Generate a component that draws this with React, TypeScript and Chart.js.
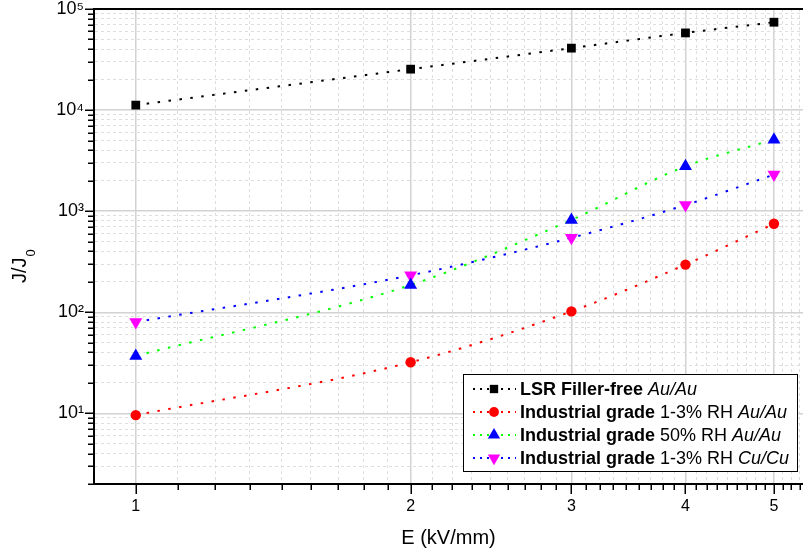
import React, { useEffect, useRef } from 'react';
import { Chart, registerables } from 'chart.js';

Chart.register(...registerables);

const FONT = "'Liberation Sans', Arial, Helvetica, sans-serif";

// ---- data ----
const xValues = [1, 2, 3, 4, 5];
const lsrAuAu = [11200, 25400, 41000, 58000, 74000];
const indLowRhAuAu = [9.6, 32, 102, 296, 750];
const indHighRhAuAu = [37, 186, 820, 2780, 5100];
const indLowRhCuCu = [80, 232, 545, 1150, 2300];

const xTickLabels = ['1', '2', '3', '4', '5'];
const yTickLabels = ['10¹', '10²', '10³', '10⁴', '10⁵'];

const legendBold = ['LSR Filler-free', 'Industrial grade', 'Industrial grade', 'Industrial grade'];
const legendPlain = [' ', ' 1-3% RH ', ' 50% RH ', ' 1-3% RH '];
const legendItalic = ['Au/Au', 'Au/Au', 'Au/Au', 'Cu/Cu'];

const xTitle = 'E (kV/mm)';
const yTitleMain = 'J/J';
const yTitleSub = '0';

// ---- styles ----
const lineColors = ['#000000', '#ff0000', '#00ff00', '#0000ff'];
const markerColors = ['#000000', '#ff0000', '#0000ff', '#ff00ff'];
const markerStyles = ['rect', 'circle', 'triangle', 'triangle'];
const markerRotations = [0, 0, 0, 180];
const markerRadii = [6.2, 5.2, 7.5, 7.5];

const X_MIN = 0.9;
const X_MAX = 5.38;
const Y_MIN = 2;
const Y_MAX = 1e5;

const isPow10 = (v: number) => {
  const l = Math.log10(v);
  return Math.abs(l - Math.round(l)) < 1e-9;
};
const isInt = (v: number) => Math.abs(v - Math.round(v)) < 1e-9;

function buildXTicks() {
  const out: { value: number }[] = [];
  for (let k = 1; k <= 5; k++) {
    out.push({ value: k });
    for (let j = 1; j <= 8; j++) {
      const v = k + j / 9;
      if (v < X_MAX) out.push({ value: v });
    }
  }
  return out;
}

function buildYTicks() {
  const out: { value: number }[] = [];
  for (let e = 0; e <= 5; e++) {
    for (let s = 1; s <= 9; s++) {
      const v = s * Math.pow(10, e);
      if (v >= Y_MIN && v <= Y_MAX) out.push({ value: v });
    }
  }
  return out;
}

function drawMarker(ctx: CanvasRenderingContext2D, style: string, x: number, y: number, r: number, rot: number, color: string) {
  ctx.save();
  ctx.fillStyle = color;
  ctx.beginPath();
  if (style === 'rect') {
    const s = r * Math.SQRT1_2;
    ctx.rect(x - s, y - s, 2 * s, 2 * s);
  } else if (style === 'circle') {
    ctx.arc(x, y, r, 0, Math.PI * 2);
  } else {
    let rad = (rot * Math.PI) / 180;
    ctx.moveTo(x + Math.sin(rad) * r, y - Math.cos(rad) * r);
    rad += (2 * Math.PI) / 3;
    ctx.lineTo(x + Math.sin(rad) * r, y - Math.cos(rad) * r);
    rad += (2 * Math.PI) / 3;
    ctx.lineTo(x + Math.sin(rad) * r, y - Math.cos(rad) * r);
    ctx.closePath();
  }
  ctx.fill();
  ctx.restore();
}

const decorPlugin = {
  id: 'decor',
  afterDraw(chart: any) {
    const ctx: CanvasRenderingContext2D = chart.ctx;
    const xs = chart.scales.x;
    const ys = chart.scales.y;
    const area = chart.chartArea;
    ctx.save();
    // tick marks
    ctx.strokeStyle = '#000';
    ctx.lineWidth = 1.5;
    xs.ticks.forEach((t: any) => {
      const px = Math.round(xs.getPixelForValue(t.value)) + 0.25;
      const len = isInt(t.value) ? 9 : 5;
      ctx.beginPath();
      ctx.moveTo(px, area.bottom);
      ctx.lineTo(px, area.bottom + 1 + len);
      ctx.stroke();
    });
    ys.ticks.forEach((t: any) => {
      const py = Math.round(ys.getPixelForValue(t.value)) + 0.25;
      const len = isPow10(t.value) ? 8 : 5;
      ctx.beginPath();
      ctx.moveTo(area.left, py);
      ctx.lineTo(area.left - 1 - len, py);
      ctx.stroke();
    });
    // top frame line
    ctx.lineWidth = 2;
    ctx.beginPath();
    ctx.moveTo(area.left - 1, area.top);
    ctx.lineTo(area.right, area.top);
    ctx.stroke();

    // y title
    ctx.fillStyle = '#000';
    ctx.save();
    ctx.translate(26, 283);
    ctx.rotate(-Math.PI / 2);
    ctx.font = `20px ${FONT}`;
    ctx.textBaseline = 'alphabetic';
    ctx.textAlign = 'left';
    ctx.fillText(yTitleMain, 0, 0);
    const w = ctx.measureText(yTitleMain).width;
    ctx.font = `13px ${FONT}`;
    ctx.fillText(yTitleSub, w + 1, 9);
    ctx.restore();

    // legend
    const bx = 463, by = 374, bw = 334, bh = 97;
    ctx.fillStyle = '#fff';
    ctx.fillRect(bx, by, bw, bh);
    ctx.strokeStyle = '#000';
    ctx.lineWidth = 1;
    ctx.strokeRect(bx + 0.5, by + 0.5, bw, bh);
    for (let i = 0; i < legendBold.length; i++) {
      const cy = 389 + i * 23;
      ctx.save();
      ctx.strokeStyle = lineColors[i];
      ctx.lineWidth = 2;
      ctx.setLineDash([2, 5]);
      ctx.beginPath();
      ctx.moveTo(473, cy);
      ctx.lineTo(516, cy);
      ctx.stroke();
      ctx.restore();
      drawMarker(ctx, markerStyles[i], 494, cy, markerRadii[i] * 0.95, markerRotations[i], markerColors[i]);
      ctx.fillStyle = '#000';
      ctx.textBaseline = 'middle';
      ctx.textAlign = 'left';
      let tx = 520;
      ctx.font = `bold 18px ${FONT}`;
      ctx.fillText(legendBold[i], tx, cy + 1);
      tx += ctx.measureText(legendBold[i]).width;
      ctx.font = `18px ${FONT}`;
      ctx.fillText(legendPlain[i], tx, cy + 1);
      tx += ctx.measureText(legendPlain[i]).width;
      ctx.font = `italic 18px ${FONT}`;
      ctx.fillText(legendItalic[i], tx, cy + 1);
    }
    ctx.restore();
  },
};

const seriesData = [lsrAuAu, indLowRhAuAu, indHighRhAuAu, indLowRhCuCu];

export default function App() {
  const canvasRef = useRef<HTMLCanvasElement | null>(null);

  useEffect(() => {
    const canvas = canvasRef.current;
    if (!canvas) return;
    const datasets = seriesData.map((vals, i) => ({
      label: legendBold[i] + legendPlain[i] + legendItalic[i],
      data: vals.map((y, k) => ({ x: xValues[k], y })),
      borderColor: lineColors[i],
      backgroundColor: markerColors[i],
      pointBackgroundColor: markerColors[i],
      pointBorderColor: markerColors[i],
      pointBorderWidth: 0,
      pointStyle: markerStyles[i],
      pointRotation: markerRotations[i],
      pointRadius: markerRadii[i],
      borderWidth: 2,
      borderDash: [2.5, 8.5],
      cubicInterpolationMode: 'monotone' as const,
      fill: false,
    }));

    const majorDash = (ctx: any) => {
      if (!ctx.tick) return [];
      return ctx.scale.axis === 'x'
        ? (isInt(ctx.tick.value) ? [] : [3, 3])
        : (isPow10(ctx.tick.value) ? [] : [3, 3]);
    };

    const chart = new Chart(canvas, {
      type: 'line',
      data: { datasets },
      plugins: [decorPlugin],
      options: {
        animation: false,
        responsive: false,
        maintainAspectRatio: false,
        layout: { autoPadding: false, padding: { top: 9, right: 0, left: 0, bottom: 0 } },
        plugins: {
          legend: { display: false },
          tooltip: { enabled: false },
        },
        scales: {
          x: {
            type: 'logarithmic',
            min: X_MIN,
            max: X_MAX,
            afterBuildTicks: (s: any) => {
              s.ticks = buildXTicks();
            },
            afterFit: (s: any) => {
              s.height = 72;
              s.paddingLeft = 0;
              s.paddingRight = 0;
            },
            ticks: {
              autoSkip: false,
              maxRotation: 0,
              padding: 4,
              color: '#000',
              font: { family: FONT, size: 16 },
              callback: (v: any) => {
                const n = Number(v);
                if (!isInt(n)) return '';
                const idx = xValues.indexOf(Math.round(n));
                return idx >= 0 ? xTickLabels[idx] : '';
              },
            },
            grid: {
              color: (c: any) => (c.tick && isInt(c.tick.value) ? '#d2d2d2' : '#dedede'),
              lineWidth: (c: any) => (c.tick && isInt(c.tick.value) ? 1.5 : 1),
              tickLength: 9,
              tickColor: 'rgba(0,0,0,0)',
            },
            border: { display: true, color: '#000', width: 2, dash: majorDash },
            title: {
              display: true,
              text: xTitle,
              color: '#000',
              font: { family: FONT, size: 20 },
              padding: { top: 0, bottom: 6 },
            },
          },
          y: {
            type: 'logarithmic',
            min: Y_MIN,
            max: Y_MAX,
            afterBuildTicks: (s: any) => {
              s.ticks = buildYTicks();
            },
            afterFit: (s: any) => {
              s.width = 94;
              s.paddingTop = 0;
              s.paddingBottom = 0;
            },
            ticks: {
              autoSkip: false,
              padding: 2,
              color: '#000',
              font: { family: FONT, size: 18 },
              callback: (v: any) => {
                const n = Number(v);
                if (!isPow10(n)) return '';
                const e = Math.round(Math.log10(n));
                return yTickLabels[e - 1] ?? '';
              },
            },
            grid: {
              color: (c: any) => (c.tick && isPow10(c.tick.value) ? '#d2d2d2' : '#dedede'),
              lineWidth: (c: any) => (c.tick && isPow10(c.tick.value) ? 1.5 : 1),
              tickLength: 8,
              tickColor: 'rgba(0,0,0,0)',
            },
            border: { display: true, color: '#000', width: 2, dash: majorDash },
          },
        },
      } as any,
    });
    return () => chart.destroy();
  }, []);

  return (
    <div style={{ position: 'absolute', left: 0, top: 0, width: 803, height: 556, background: '#fff' }}>
      <canvas ref={canvasRef} width={803} height={556} style={{ width: 803, height: 556, display: 'block' }} />
    </div>
  );
}
